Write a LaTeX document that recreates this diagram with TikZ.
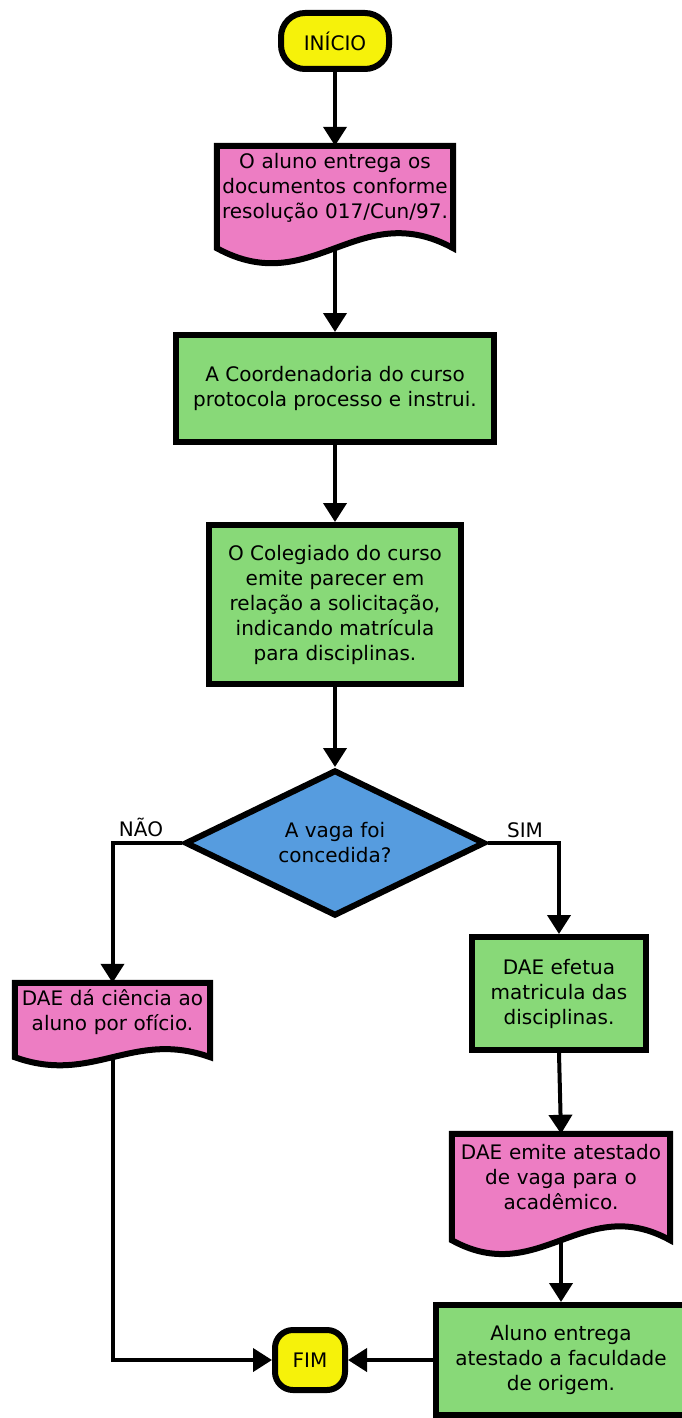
\documentclass[tikz,border=0pt]{standalone}
\usepackage{fontspec}
\setmainfont{DejaVu Sans}
\usetikzlibrary{arrows.meta,shapes.geometric,backgrounds}
\definecolor{amarelo}{RGB}{246,242,10}
\definecolor{rosa}{RGB}{237,125,195}
\definecolor{verde}{RGB}{136,217,120}
\definecolor{azul}{RGB}{86,156,223}
\tikzset{
  caixa/.style={draw,line width=6pt,fill=verde,align=center,inner sep=0pt},
  terminal/.style={draw,line width=6pt,fill=amarelo,rounded corners=24pt,inner sep=0pt},
  documento/.style={align=center,inner sep=0pt},
  decisao/.style={draw,line width=6pt,fill=azul,diamond,aspect=2.1,align=center,inner sep=0pt},
  onda/.style={draw,line width=6pt,fill=rosa},
  seta/.style={line width=4pt,-{Triangle[width=23pt,length=19pt]}},
  rotulo/.style={inner sep=0pt}
}
\begin{document}
\begin{tikzpicture}[x=1pt,y=-1pt,font=\fontsize{20}{25}\selectfont]
  \useasboundingbox (0,0) rectangle (682,1418);
  %% Início e passos
  \node[terminal,minimum width=108pt,minimum height=56pt] (inicio) at (335,41) {INÍCIO};
  \node[documento,text width=236pt,minimum height=84pt] (entrega) at (335,188) {O aluno entrega os\\documentos conforme\\resolução 017/Cun/97.};
  \node[caixa,minimum width=318pt,minimum height=107pt] (coordenadoria) at (335,388.5) {A Coordenadoria do curso\\protocola processo e instrui.};
  \node[caixa,minimum width=252pt,minimum height=159pt] (colegiado) at (335,604.5) {O Colegiado do curso\\emite parecer em\\relação a solicitação,\\indicando matrícula\\para disciplinas.};
  \node[decisao,minimum width=300pt,minimum height=146pt] (vaga) at (335,843) {A vaga foi\\concedida?};
  \node[rotulo] (nao) at (141,827) {NÃO};
  \node[rotulo] (sim) at (525,830) {SIM};
  %% Ramos
  \node[documento,text width=195pt,minimum height=58pt] (ciencia) at (112.5,1012) {DAE dá ciência ao\\aluno por ofício.};
  \node[caixa,minimum width=174pt,minimum height=113pt] (efetua) at (559,993.5) {DAE efetua\\matricula das\\disciplinas.};
  \node[documento,text width=218pt,minimum height=86pt] (atestado) at (561,1177) {DAE emite atestado\\de vaga para o\\acadêmico.};
  \node[caixa,minimum width=250pt,minimum height=110pt] (aluno) at (561,1360) {Aluno entrega\\atestado a faculdade\\de origem.};
  \node[terminal,minimum width=70pt,minimum height=60pt,rounded corners=18pt] (fim) at (310,1360) {FIM};
  %% Documentos (borda ondulada)
  \begin{scope}[on background layer]
    \foreach \n/\d/\c/\h in {entrega/18/95/52,ciencia/16/78/28,atestado/20/87/48}{
      \draw[onda] (\n.north west) -- (\n.north east) -- ([yshift=-\d pt]\n.south east)
        .. controls +(-\c,-\h) and +(\c,\h) .. ([yshift=-\d pt]\n.south west) -- cycle;
      \coordinate (\n-base) at ([yshift=-\d pt]\n.south);
    }
  \end{scope}
  %% Setas
  \draw[seta] (inicio.south) -- (entrega.north);
  \draw[seta] (entrega-base) -- (coordenadoria.north);
  \draw[seta] (coordenadoria.south) -- (colegiado.north);
  \draw[seta] (colegiado.south) -- (vaga.north);
  \draw[seta] (vaga.west) -| (ciencia.north);
  \draw[seta] (vaga.east) -| (efetua.north);
  \draw[seta] (efetua.south) -- (atestado.north);
  \draw[seta] (atestado-base) -- (aluno.north);
  \draw[seta] (ciencia-base) |- (fim.west);
  \draw[seta] (aluno.west) -- (fim.east);
\end{tikzpicture}
\end{document}
